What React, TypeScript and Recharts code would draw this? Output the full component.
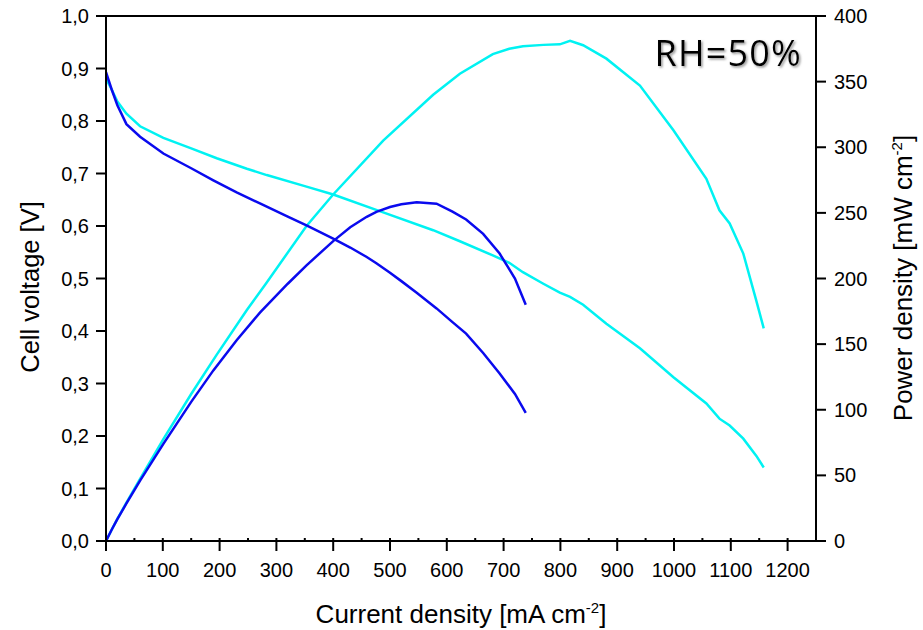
import React from 'react';
import { LineChart, Line, XAxis, YAxis, ReferenceLine } from 'recharts';

// Current density [mA cm-2] sample points
const blueCurrent = [0, 10, 20, 36, 60, 101, 150, 189, 230, 271, 320, 353, 400, 430, 459, 476, 500, 520, 547, 582, 610, 634, 664, 693, 720, 739];
// Cell voltage [V]
const blueVoltage = [0.893, 0.86, 0.83, 0.794, 0.77, 0.738, 0.71, 0.687, 0.664, 0.643, 0.618, 0.601, 0.576, 0.559, 0.541, 0.529, 0.511, 0.495, 0.473, 0.443, 0.417, 0.395, 0.358, 0.319, 0.28, 0.244];
// Power density [mW cm-2]
const bluePower = [0, 8.6, 16.6, 28.6, 46, 74, 106, 130, 153, 174, 196, 210, 228.5, 239, 247, 250.8, 254.5, 256.5, 258, 257, 251, 245, 234, 219, 200, 180];

const cyanCurrent = [0, 10, 20, 36, 60, 101, 150, 195, 248, 283, 353, 400, 488, 576, 623, 681, 710, 734, 770, 799, 817, 840, 881, 940, 999, 1057, 1080, 1098, 1122, 1145, 1158];
const cyanVoltage = [0.881, 0.86, 0.837, 0.814, 0.79, 0.768, 0.748, 0.729, 0.709, 0.697, 0.675, 0.66, 0.626, 0.592, 0.571, 0.544, 0.53, 0.512, 0.49, 0.473, 0.465, 0.45, 0.414, 0.367, 0.312, 0.262, 0.233, 0.22, 0.195, 0.162, 0.14];
const cyanPower = [0, 8.6, 16.8, 29.3, 47.4, 77.6, 112, 142, 176, 197, 240, 264, 305, 340, 356, 371, 375, 377, 378, 378.4, 381, 377.7, 367.5, 347, 313, 276, 252, 242, 219, 183, 162];

const xTicks = [0, 50, 100, 150, 200, 250, 300, 350, 400, 450, 500, 550, 600, 650, 700, 750, 800, 850, 900, 950, 1000, 1050, 1100, 1150, 1200];
const voltageTicks = [0, 0.1, 0.2, 0.3, 0.4, 0.5, 0.6, 0.7, 0.8, 0.9, 1.0];
const powerTicks = [0, 50, 100, 150, 200, 250, 300, 350, 400];

const BLUE = '#0a0aee';
const CYAN = '#00f2f2';
const FONT = '"Liberation Sans", Arial, sans-serif';

const toPts = (xs: number[], ys: number[]) => xs.map((x, i) => ({ x, y: ys[i] }));

const XTick = (props: any) => {
  const { x, y, payload } = props;
  const v = payload.value;
  const major = v % 100 === 0;
  return (
    <g>
      <line x1={x} x2={x} y1={y - 3} y2={major ? y + 10 : y} stroke="#000" strokeWidth={2} />
      {major && (
        <text x={x} y={y + 22} dy="0.71em" textAnchor="middle" fontSize={20} fill="#000" fontFamily={FONT}>
          {v}
        </text>
      )}
    </g>
  );
};

export default function App() {
  const W = 923;
  const H = 630;
  return (
    <div style={{ position: 'absolute', left: 0, top: 0, width: W, height: H, overflow: 'hidden', fontFamily: FONT }}>
      <LineChart width={W} height={H} margin={{ top: 16, right: 0, bottom: 0, left: 0 }}>
        <XAxis
          dataKey="x"
          type="number"
          domain={[0, 1250]}
          ticks={xTicks}
          interval={0}
          height={89}
          tickSize={0}
          tickMargin={0}
          tickLine={false}
          tick={<XTick />}
          axisLine={{ stroke: '#000', strokeWidth: 2 }}
          allowDataOverflow
        />
        <YAxis
          yAxisId="left"
          domain={[0, 1]}
          ticks={voltageTicks}
          interval={0}
          width={106}
          tickSize={10}
          tickMargin={7}
          tickFormatter={(v: number) => v.toFixed(1).replace('.', ',')}
          tick={{ fontSize: 20, fill: '#000' }}
          tickLine={{ stroke: '#000', strokeWidth: 2 }}
          axisLine={{ stroke: '#000', strokeWidth: 2 }}
          allowDataOverflow
        />
        <YAxis
          yAxisId="right"
          orientation="right"
          domain={[0, 400]}
          ticks={powerTicks}
          interval={0}
          width={107}
          tickSize={10}
          tickMargin={8}
          tick={{ fontSize: 20, fill: '#000' }}
          tickLine={{ stroke: '#000', strokeWidth: 2 }}
          axisLine={{ stroke: '#000', strokeWidth: 2 }}
          allowDataOverflow
        />
        <ReferenceLine yAxisId="left" y={1} stroke="#000" strokeWidth={2} />
        <Line yAxisId="left" data={toPts(cyanCurrent, cyanVoltage)} dataKey="y" type="linear" stroke={CYAN} strokeWidth={2.5} dot={false} isAnimationActive={false} />
        <Line yAxisId="right" data={toPts(cyanCurrent, cyanPower)} dataKey="y" type="linear" stroke={CYAN} strokeWidth={2.5} dot={false} isAnimationActive={false} />
        <Line yAxisId="left" data={toPts(blueCurrent, blueVoltage)} dataKey="y" type="linear" stroke={BLUE} strokeWidth={2.5} dot={false} isAnimationActive={false} />
        <Line yAxisId="right" data={toPts(blueCurrent, bluePower)} dataKey="y" type="linear" stroke={BLUE} strokeWidth={2.5} dot={false} isAnimationActive={false} />
      </LineChart>
      <svg width={W} height={H} style={{ position: 'absolute', left: 0, top: 0, pointerEvents: 'none' }}>
        <defs>
          <filter id="shadow" x="-10%" y="-30%" width="130%" height="160%">
            <feDropShadow dx="1.5" dy="1.5" stdDeviation="1.2" floodColor="#777" floodOpacity="0.8" />
          </filter>
        </defs>
        <text x={802} y={66} textAnchor="end" fontSize={36} letterSpacing={1.2} fontFamily='"Open Sans", sans-serif' fill="#000" filter="url(#shadow)">
          RH=50%
        </text>
        <text x={461} y={623} textAnchor="middle" fontSize={26} fontFamily={FONT} fill="#000">
          Current density [mA cm
          <tspan dy={-10} fontSize={15}>-2</tspan>
          <tspan dy={10}>]</tspan>
        </text>
        <text transform="translate(39,287) rotate(-90)" textAnchor="middle" fontSize={25.5} fontFamily={FONT} fill="#000">
          Cell voltage [V]
        </text>
        <text transform="translate(912,278) rotate(-90)" textAnchor="middle" fontSize={26} fontFamily={FONT} fill="#000">
          Power density [mW cm
          <tspan dy={-10} fontSize={15}>-2</tspan>
          <tspan dy={10}>]</tspan>
        </text>
      </svg>
    </div>
  );
}
